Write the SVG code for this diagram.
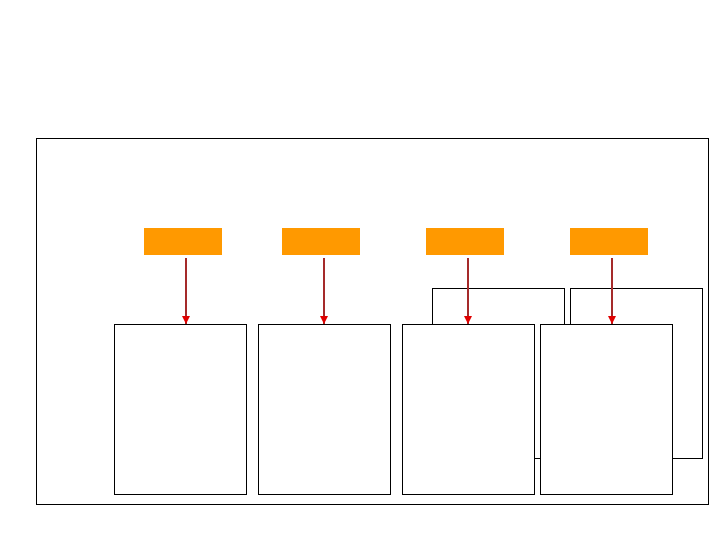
<svg xmlns="http://www.w3.org/2000/svg" width="720" height="540" viewBox="0 0 720 540">
<style>
.frame{fill:#fff;stroke:#000;stroke-width:1}
.box{fill:#fff;stroke:#000;stroke-width:1}
.tag{fill:#ff9900;stroke:none}
.conn{stroke:#a52a2a;stroke-width:2;fill:none}
</style>
<defs>
<marker id="ah" viewBox="0 0 10 10" refX="10" refY="5" markerWidth="4" markerHeight="4" orient="auto" markerUnits="strokeWidth">
<path d="M0,0 L10,5 L0,10 z" fill="#e00000"/>
</marker>
</defs>
<rect width="720" height="540" fill="#fff"/>
<g id="frame"><rect class="frame" x="36.5" y="138.5" width="672" height="366"/></g>
<g id="back3"><rect class="box" x="432.5" y="288.5" width="132" height="170"/></g>
<g id="back4"><rect class="box" x="570.5" y="288.5" width="132" height="170"/></g>
<g id="box1"><rect class="box" x="114.5" y="324.5" width="132" height="170"/></g>
<g id="box2"><rect class="box" x="258.5" y="324.5" width="132" height="170"/></g>
<g id="box3"><rect class="box" x="402.5" y="324.5" width="132" height="170"/></g>
<g id="box4"><rect class="box" x="540.5" y="324.5" width="132" height="170"/></g>
<g id="tag1"><rect class="tag" x="144" y="228" width="78" height="27"/></g>
<g id="tag2"><rect class="tag" x="282" y="228" width="78" height="27"/></g>
<g id="tag3"><rect class="tag" x="426" y="228" width="78" height="27"/></g>
<g id="tag4"><rect class="tag" x="570" y="228" width="78" height="27"/></g>
<g id="connectors">
<line class="conn" x1="186" y1="258" x2="186" y2="324" marker-end="url(#ah)"/>
<line class="conn" x1="324" y1="258" x2="324" y2="324" marker-end="url(#ah)"/>
<line class="conn" x1="468" y1="258" x2="468" y2="324" marker-end="url(#ah)"/>
<line class="conn" x1="612" y1="258" x2="612" y2="324" marker-end="url(#ah)"/>
</g>
</svg>
